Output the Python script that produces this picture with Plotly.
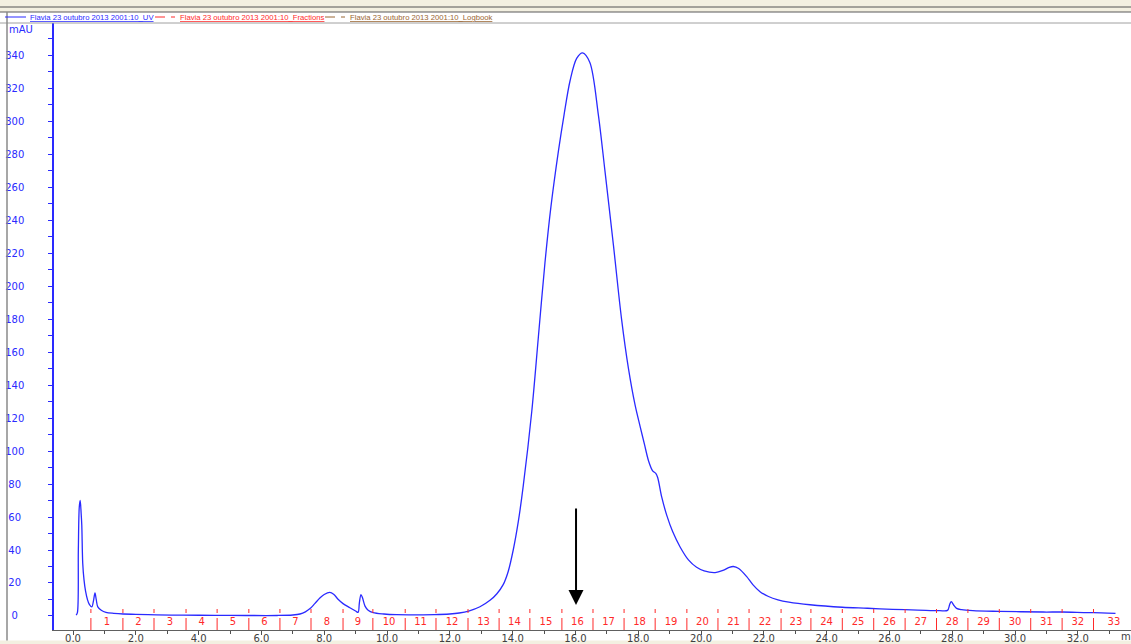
import plotly.graph_objects as go

# ---------------- data ----------------
time_ml = [0.10, 0.14, 0.17, 0.20, 0.23, 0.26, 0.28, 0.31, 0.35, 0.40, 0.46, 0.52,
           0.60, 0.65, 0.70, 0.74, 0.79, 0.90, 1.05, 1.30, 1.60, 2.00, 2.66, 3.50,
           4.50, 5.50, 6.50, 7.00, 7.23, 7.40, 7.55, 7.70, 7.87, 8.00, 8.18, 8.30,
           8.45, 8.60, 8.82, 9.00, 9.08, 9.12, 9.17, 9.22, 9.30, 9.40, 9.56, 9.90,
           10.30, 11.00, 11.50, 12.00, 12.30, 12.60, 12.96, 13.28, 13.50, 13.70,
           13.86, 14.02, 14.18, 14.34, 14.61, 14.82, 15.03, 15.22, 15.46, 15.64,
           15.83, 16.04, 16.23, 16.46, 16.73, 16.94, 17.21, 17.47, 17.69, 17.90,
           18.06, 18.20, 18.33, 18.46, 18.56, 18.62, 18.75, 18.91, 19.10, 19.33,
           19.60, 19.86, 20.10, 20.45, 20.70, 20.90, 21.03, 21.20, 21.45, 21.65,
           21.88, 22.15, 22.45, 22.80, 23.47, 24.50, 25.30, 26.10, 26.90, 27.60,
           27.85, 27.92, 27.97, 28.05, 28.14, 28.30, 28.66, 29.50, 30.90, 31.50,
           32.30, 32.50, 33.20]
uv_mau = [0.5, 2.0, 40.0, 66.0, 70.0, 62.0, 55.0, 32.0, 22.0, 15.0, 10.0, 7.0,
          5.5, 9.0, 14.0, 10.0, 5.5, 3.5, 2.2, 1.6, 1.2, 1.0, 0.7, 0.5,
          0.4, 0.3, 0.3, 0.6, 1.2, 2.5, 4.5, 7.5, 11.0, 13.0, 14.3, 13.2,
          10.0, 7.5, 5.0, 3.0, 2.2, 8.0, 13.0, 11.0, 6.0, 3.5, 2.0, 1.2,
          0.8, 0.7, 0.8, 1.2, 1.8, 3.0, 5.6, 9.5, 13.5, 19.0,
          27.0, 40.0, 57.0, 79.0, 124.0, 169.0, 214.0, 248.0, 282.0, 304.0,
          324.5, 338.0, 341.4, 335.6, 304.0, 270.0, 225.0, 180.0, 150.0, 128.0,
          115.0, 104.0, 94.0, 88.0, 86.5, 84.0, 72.0, 61.0, 51.0, 42.0,
          34.0, 29.5, 27.3, 26.3, 27.6, 29.5, 30.0, 28.8, 24.0, 19.0,
          14.7, 11.8, 9.8, 8.4, 6.8, 5.3, 4.7, 4.0, 3.6, 3.2,
          3.4, 7.0, 8.7, 6.5, 4.6, 3.8, 3.2, 2.8, 2.4, 2.4,
          2.0, 2.0, 1.6]

fraction_starts = [0.57, 1.59, 2.58, 3.60, 4.59, 5.60, 6.59, 7.58, 8.60, 9.55,
                   10.58, 11.56, 12.58, 13.57, 14.55, 15.57, 16.56, 17.55, 18.54,
                   19.55, 20.54, 21.53, 22.55, 23.50, 24.50, 25.50, 26.50, 27.50,
                   28.50, 29.50, 30.50, 31.50, 32.50]
fraction_names = [str(i) for i in range(1, 34)]

x_tick_values = list(range(0, 33, 2))
x_tick_labels = ["%.1f" % v for v in x_tick_values]
x_minor_values = list(range(1, 34, 2))
y_tick_values = list(range(0, 341, 20))

series_names = ["Flavia 23 outubro 2013 2001:10_UV",
                "Flavia 23 outubro 2013 2001:10_Fractions",
                "Flavia 23 outubro 2013 2001:10_Logbook"]
series_colors = ["#2a2aff", "#ff2a2a", "#9a6632"]

arrow_at_ml = 16.02

# ---------------- geometry helpers (layout only) ----------------
W, H = 1131, 644
ML, MR, MT, MB = 54, 0, 23, 14
PW, PH = W - ML - MR, H - MT - MB
Y_MIN, Y_MAX = -8.5, 359.5
X_MIN, X_MAX = -0.605, 33.694


def px(X):
    return (X - ML) / PW


def py(Y):
    return (H - MB - Y) / PH


def yval(Y):
    return Y_MIN + (H - MB - Y) / PH * (Y_MAX - Y_MIN)


FONT = "DejaVu Sans"

fig = go.Figure()

# UV trace
fig.add_trace(go.Scatter(
    x=time_ml, y=uv_mau, mode="lines", name=series_names[0],
    line=dict(color=series_colors[0], width=1.3, shape="spline", smoothing=0.9),
    showlegend=False, hoverinfo="x+y"))

# Fraction marks
frac_x, frac_y = [], []
for b in fraction_starts:
    frac_x += [b, b, None]
    frac_y += [yval(630), yval(609), None]
fig.add_trace(go.Scatter(
    x=frac_x, y=frac_y, mode="lines", name=series_names[1],
    line=dict(color=series_colors[1], width=1, dash="12px,5px,4px"),
    showlegend=False, hoverinfo="skip"))

label_pos = [(a + b) / 2 for a, b in zip(fraction_starts[:-1], fraction_starts[1:])]
label_pos.append(fraction_starts[-1] + 0.65)
fig.add_trace(go.Scatter(
    x=label_pos, y=[yval(622)] * len(label_pos), mode="text", text=fraction_names,
    textfont=dict(family=FONT, size=10, color=series_colors[1]),
    showlegend=False, hoverinfo="skip", cliponaxis=False))

# Logbook (no events)
fig.add_trace(go.Scatter(x=[None], y=[None], mode="lines", name=series_names[2],
                         line=dict(color=series_colors[2]), showlegend=False))

shapes = []
annotations = []

# window chrome
shapes.append(dict(type="rect", xref="paper", yref="paper", x0=px(0), x1=px(W),
                   y0=py(0), y1=py(12), fillcolor="#f3f0e1", line=dict(width=0), layer="below"))
shapes.append(dict(type="rect", xref="paper", yref="paper", x0=px(0), x1=px(W),
                   y0=py(640.5), y1=py(H), fillcolor="#f3f0e1", line=dict(width=0), layer="below"))
for yy, col in [(7, "#555555"), (12, "#5a5a5a"), (23, "#a0a0a0")]:
    shapes.append(dict(type="line", xref="paper", yref="paper", x0=px(0), x1=px(W),
                       y0=py(yy), y1=py(yy), line=dict(color=col, width=1)))
shapes.append(dict(type="line", xref="paper", yref="paper", x0=px(7), x1=px(7),
                   y0=py(12), y1=py(640.5), line=dict(color="#8a8a8a", width=1.5)))

# legend samples and texts
legend_layout = [(5, 26, 28, "solid"), (155, 176, 178, "10px,6px,4px"), (325, 346, 348, "10px,6px,4px")]
for (l0, l1, tx, dash), name, col in zip(legend_layout, series_names, series_colors):
    shapes.append(dict(type="line", xref="paper", yref="paper", x0=px(l0), x1=px(l1),
                       y0=py(17), y1=py(17), line=dict(color=col, width=1, dash=dash)))
    annotations.append(dict(xref="paper", yref="paper", x=px(tx), y=py(17.5),
                            xanchor="left", yanchor="middle", showarrow=False,
                            text="<u>%s</u>" % name,
                            font=dict(family="Liberation Sans", size=7.7, color=col)))

# unit labels
annotations.append(dict(xref="paper", yref="paper", x=px(7), y=py(29), xanchor="left",
                        yanchor="middle", showarrow=False, text="mAU",
                        font=dict(family=FONT, size=10, color=series_colors[0])))
annotations.append(dict(xref="paper", yref="paper", x=px(1119), y=py(636.5), xanchor="left",
                        yanchor="middle", showarrow=False, text="m",
                        font=dict(family=FONT, size=10, color="#404040")))

# arrow
annotations.append(dict(x=arrow_at_ml, y=yval(605), xref="x", yref="y", text="",
                        showarrow=True, ax=0, ay=-98, arrowhead=2, arrowsize=1.5,
                        arrowwidth=2, arrowcolor="black"))

y_text = []
for v in y_tick_values:
    s = str(v)
    if len(s) == 1:
        s = s + "\u2007"
    elif len(s) == 2:
        s = s + "\u2008"
    y_text.append(s)

fig.update_layout(
    width=W, height=H,
    margin=dict(l=ML, r=MR, t=MT, b=MB, pad=0),
    paper_bgcolor="white", plot_bgcolor="white",
    showlegend=False,
    shapes=shapes, annotations=annotations,
    xaxis=dict(range=[X_MIN, X_MAX], tickmode="array", tickvals=x_tick_values,
               ticktext=x_tick_labels, ticks="outside", ticklen=4, tickcolor="#505050",
               tickfont=dict(family=FONT, size=10, color="#404040"),
               showline=True, linecolor="#606060", linewidth=1,
               showgrid=False, zeroline=False, automargin=False,
               ticklabelstandoff=-5,
               minor=dict(tickvals=x_minor_values, ticks="outside", ticklen=3,
                          tickcolor="#505050", showgrid=False)),
    yaxis=dict(range=[Y_MIN, Y_MAX], tickmode="array", tickvals=y_tick_values,
               ticktext=y_text, ticks="outside", ticklen=4, tickcolor=series_colors[0],
               tickfont=dict(family=FONT, size=10, color=series_colors[0]),
               showline=True, linecolor=series_colors[0], linewidth=1.5,
               showgrid=False, zeroline=False, automargin=False,
               ticklabelstandoff=22,
               minor=dict(dtick=10, tick0=0, ticks="outside", ticklen=4,
                          tickcolor=series_colors[0], showgrid=False)),
)

fig.write_html("out.html")
